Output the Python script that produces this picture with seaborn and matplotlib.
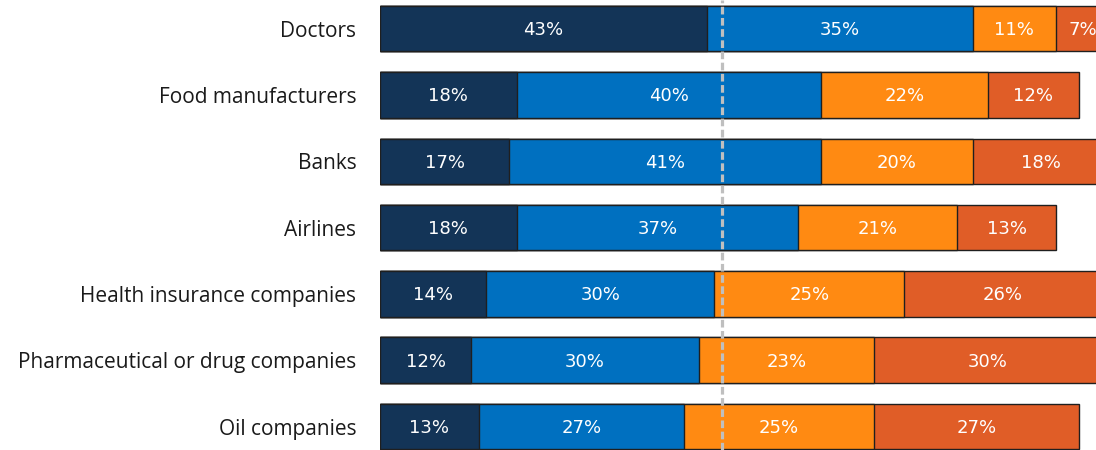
import matplotlib
matplotlib.use("Agg")
import matplotlib.pyplot as plt
import seaborn as sns
import pandas as pd
import numpy as np

# Survey shares per institution, split into four response groups
categories = ["Doctors", "Food manufacturers", "Banks", "Airlines",
              "Health insurance companies", "Pharmaceutical or drug companies",
              "Oil companies"]
group_a = [43, 18, 17, 18, 14, 12, 13]
group_b = [35, 40, 41, 37, 30, 30, 27]
group_c = [11, 22, 20, 21, 25, 23, 25]
group_d = [7, 12, 18, 13, 26, 30, 27]
reference_line = 45

series = [group_a, group_b, group_c, group_d]
colors = ["#133457", "#0070C0", "#FF8A12", "#E05D27"]

sns.set_theme(style="white")
plt.rcParams["font.family"] = ["Open Sans", "DejaVu Sans"]

fig = plt.figure(figsize=(10.96, 4.5), dpi=100)
ax = fig.add_axes([380 / 1096, 0, 716 / 1096, 1])

vals = np.array(series, dtype=float)
cum = np.cumsum(vals, axis=0)

# Draw cumulative totals from the longest down so each segment shows its own colour
for i in range(len(series) - 1, -1, -1):
    df = pd.DataFrame({"category": categories, "value": cum[i]})
    sns.barplot(data=df, x="value", y="category", orient="h", color=colors[i],
                saturation=1, width=0.686, edgecolor="#1f1f1f", linewidth=1.0,
                ax=ax, order=categories)

for i in range(len(series)):
    for j, cat in enumerate(categories):
        centre = cum[i][j] - vals[i][j] / 2
        ax.text(centre, j + 0.02, f"{int(vals[i][j])}%", ha="center", va="center",
                color="white", fontsize=13, fontfamily=["DejaVu Sans"])

ax.axvline(reference_line, color="#BFBFBF", linewidth=2.3,
           linestyle=(0, (2.4, 1.1)), zorder=5)

ax.set_xlim(0, 716 / 7.597)
ax.set_ylim((450 - 28.7) / 66.3, -28.7 / 66.3)
ax.set_xlabel("")
ax.set_ylabel("")
ax.set_xticks([])
ax.tick_params(axis="y", length=0, pad=17, labelsize=15, labelcolor="#1a1a1a")
sns.despine(ax=ax, left=True, bottom=True)

fig.savefig("out.png", dpi=100)
